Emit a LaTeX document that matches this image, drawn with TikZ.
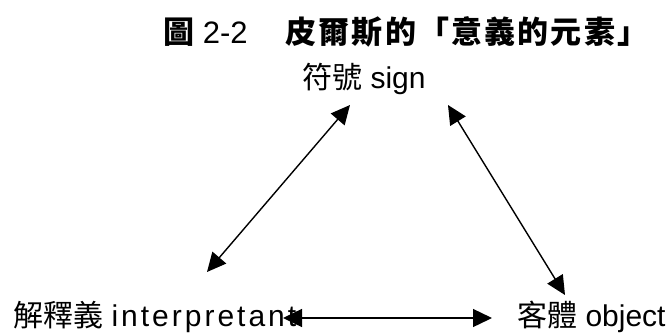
\documentclass[tikz,border=0pt]{standalone}
\usepackage{fontspec}
\setmainfont{Liberation Sans}
\newfontfamily\cjk{Noto Sans CJK TC}
\newfontfamily\cjkt{Noto Sans CJK TC}[LetterSpace=7]
\newfontfamily\latsp{Liberation Sans}[LetterSpace=10]
\usetikzlibrary{arrows.meta}
\tikzset{
  lbl/.style={inner sep=0pt, anchor=base west, font=\fontsize{30}{30}\selectfont},
  ttl/.style={inner sep=0pt, anchor=base west, font=\fontsize{31}{31}\selectfont},
  arr/.style={line width=1.4pt, {Triangle[length=19pt,width=18pt]}-{Triangle[length=19pt,width=18pt]}}
}
\begin{document}
\begin{tikzpicture}[x=1pt,y=-1pt]
\useasboundingbox (0,0) rectangle (667,333);
\node[ttl] (title) at (163,43) {{\cjk\bfseries 圖} 2-2\hspace{38pt}{\cjkt\bfseries 皮爾斯的「意義的元素」}};
\node[lbl] (sign) at (302,88) {{\cjk 符號} sign};
\node[lbl] (interp) at (13,326) {{\cjk 解釋義} {\latsp interpretant}};
\node[lbl] (object) at (517,326) {{\cjk 客體} object};
\draw[arr] ([shift={(194,-54)}]interp.base west) -- ([shift={(48,17)}]sign.base west);
\draw[arr] ([shift={(146,17)}]sign.base west) -- ([shift={(48,-31)}]object.base west);
\draw[arr] ([shift={(270,-8)}]interp.base west) -- ([shift={(-25,-8)}]object.base west);
\end{tikzpicture}
\end{document}
